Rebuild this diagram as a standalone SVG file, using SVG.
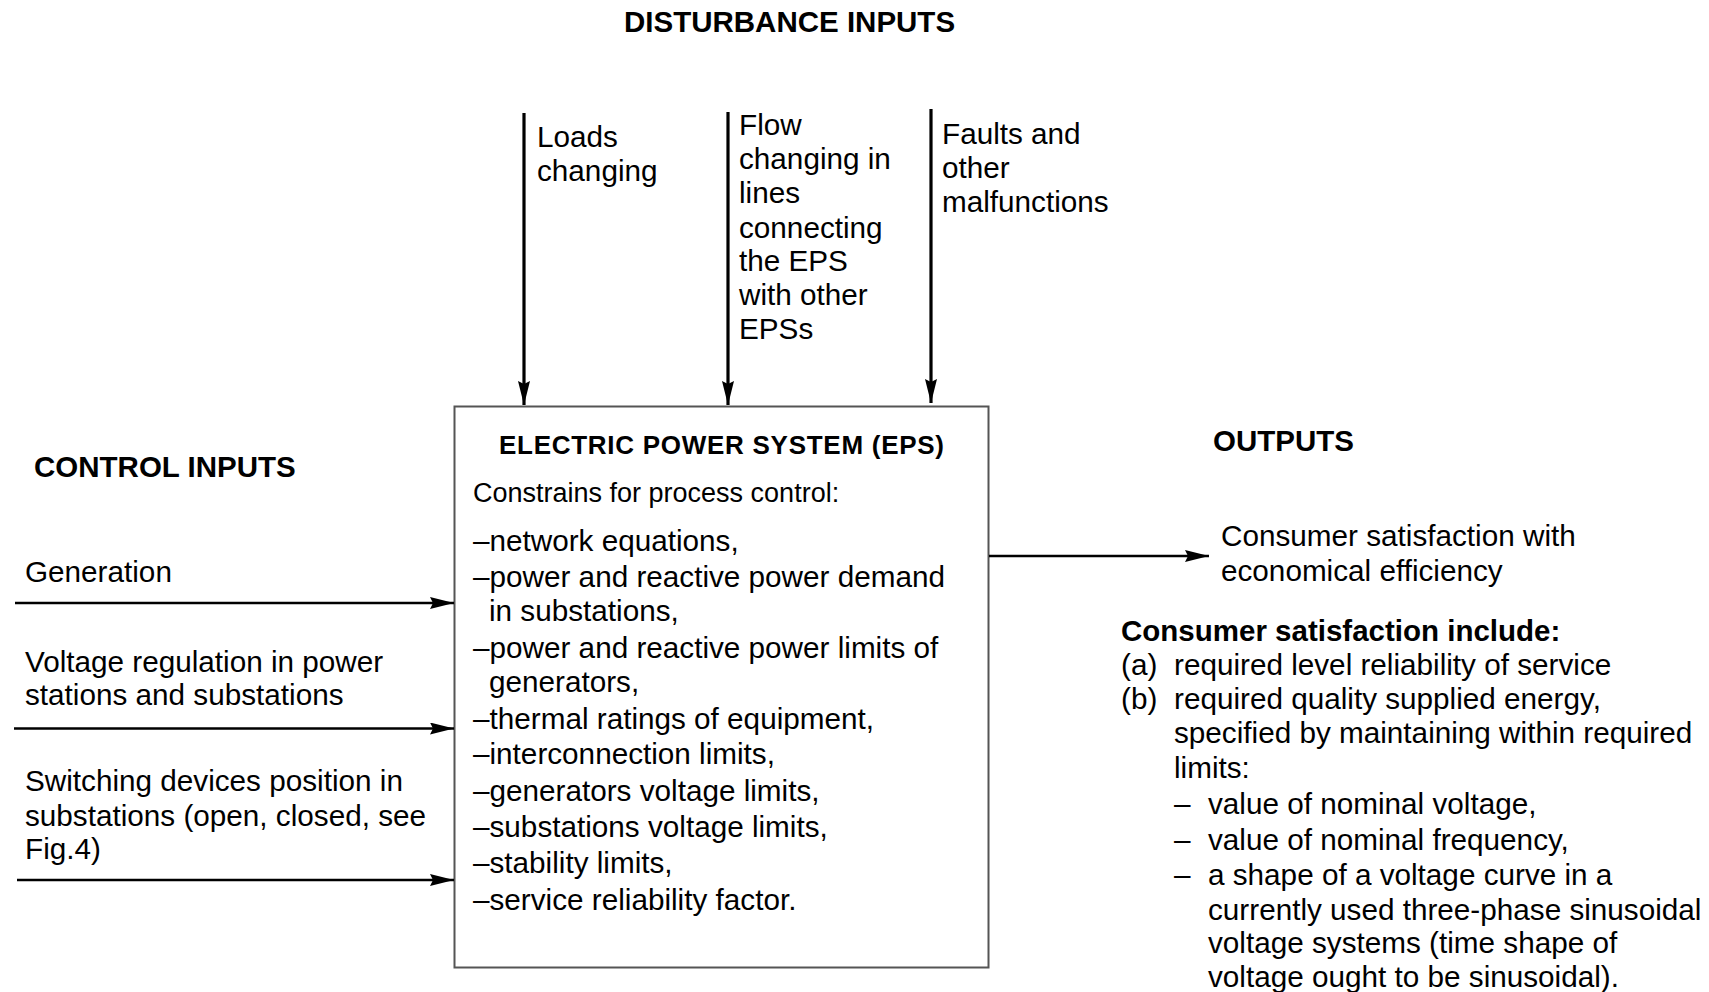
<svg xmlns="http://www.w3.org/2000/svg" width="1709" height="992" viewBox="0 0 1709 992">
<style>
text{font-family:"Liberation Sans",Arial,sans-serif;fill:#000;}
.t{font-size:29.7px;}
.h{font-size:29.5px;font-weight:bold;}
.eps{font-size:26px;font-weight:bold;}
.c{font-size:27px;}
.ln{stroke:#000;stroke-width:3.2;fill:none;}
.hl{stroke-width:2.6;}
.box{fill:#fff;stroke:#555;stroke-width:2;}
</style>
<defs>
<marker id="ah" viewBox="0 0 24 12" refX="24" refY="6" markerWidth="24" markerHeight="12" markerUnits="userSpaceOnUse" orient="auto">
<path d="M0,0 L24,6 L0,12 L3,6 z" fill="#000"/>
</marker>
</defs>
<rect width="1709" height="992" fill="#fff"/>

<g id="headings">
<text class="h" x="624" y="32">DISTURBANCE INPUTS</text>
<text class="h" x="34" y="477">CONTROL INPUTS</text>
<text class="h" x="1213" y="451">OUTPUTS</text>
</g>

<g id="eps">
<rect class="box" x="454.5" y="406.5" width="534" height="561"/>
<text class="eps" x="499" y="454" textLength="445" lengthAdjust="spacing">ELECTRIC POWER SYSTEM (EPS)</text>
<text class="c" x="473" y="502">Constrains for process control:</text>
<text class="t" x="473" y="551">–network equations,</text>
<text class="t" x="473" y="587">–power and reactive power demand</text>
<text class="t" x="489" y="621">in substations,</text>
<text class="t" x="473" y="658">–power and reactive power limits of</text>
<text class="t" x="489" y="692">generators,</text>
<text class="t" x="473" y="729">–thermal ratings of equipment,</text>
<text class="t" x="473" y="764">–interconnection limits,</text>
<text class="t" x="473" y="801">–generators voltage limits,</text>
<text class="t" x="473" y="837">–substations voltage limits,</text>
<text class="t" x="473" y="873">–stability limits,</text>
<text class="t" x="473" y="910">–service reliability factor.</text>
</g>

<g id="disturbance-loads">
<text class="t" x="537" y="147">Loads</text>
<text class="t" x="537" y="181">changing</text>
</g>
<g id="disturbance-flow">
<text class="t" x="739" y="135">Flow</text>
<text class="t" x="739" y="169">changing in</text>
<text class="t" x="739" y="203">lines</text>
<text class="t" x="739" y="238">connecting</text>
<text class="t" x="739" y="271">the EPS</text>
<text class="t" x="739" y="305">with other</text>
<text class="t" x="739" y="339">EPSs</text>
</g>
<g id="disturbance-faults">
<text class="t" x="942" y="144">Faults and</text>
<text class="t" x="942" y="178">other</text>
<text class="t" x="942" y="212">malfunctions</text>
</g>

<g id="control-generation">
<text class="t" x="25" y="582">Generation</text>
</g>
<g id="control-voltage">
<text class="t" x="25" y="672">Voltage regulation in power</text>
<text class="t" x="25" y="705">stations and substations</text>
</g>
<g id="control-switching">
<text class="t" x="25" y="791">Switching devices position in</text>
<text class="t" x="25" y="826">substations (open, closed, see</text>
<text class="t" x="25" y="859">Fig.4)</text>
</g>

<g id="output">
<text class="t" x="1221" y="546">Consumer satisfaction with</text>
<text class="t" x="1221" y="581">economical efficiency</text>
</g>

<g id="satisfaction">
<text class="h" x="1121" y="641">Consumer satisfaction include:</text>
<text class="t" x="1121" y="675">(a)</text>
<text class="t" x="1174" y="675">required level reliability of service</text>
<text class="t" x="1121" y="709">(b)</text>
<text class="t" x="1174" y="709">required quality supplied energy,</text>
<text class="t" x="1174" y="743">specified by maintaining within required</text>
<text class="t" x="1174" y="778">limits:</text>
<text class="t" x="1174" y="814">–</text>
<text class="t" x="1208" y="814">value of nominal voltage,</text>
<text class="t" x="1174" y="850">–</text>
<text class="t" x="1208" y="850">value of nominal frequency,</text>
<text class="t" x="1174" y="885">–</text>
<text class="t" x="1208" y="885">a shape of a voltage curve in a</text>
<text class="t" x="1208" y="920">currently used three-phase sinusoidal</text>
<text class="t" x="1208" y="953">voltage systems (time shape of</text>
<text class="t" x="1208" y="987">voltage ought to be sinusoidal).</text>
</g>

<g id="connectors">
<line class="ln" x1="524" y1="113" x2="524" y2="405" marker-end="url(#ah)"/>
<line class="ln" x1="728" y1="112" x2="728" y2="405" marker-end="url(#ah)"/>
<line class="ln" x1="931" y1="109" x2="931" y2="403" marker-end="url(#ah)"/>
<line class="ln hl" x1="15" y1="603" x2="454" y2="603" marker-end="url(#ah)"/>
<line class="ln hl" x1="14" y1="728.5" x2="454" y2="728.5" marker-end="url(#ah)"/>
<line class="ln hl" x1="17" y1="880" x2="454" y2="880" marker-end="url(#ah)"/>
<line class="ln hl" x1="989" y1="556" x2="1209" y2="556" marker-end="url(#ah)"/>
</g>
</svg>
